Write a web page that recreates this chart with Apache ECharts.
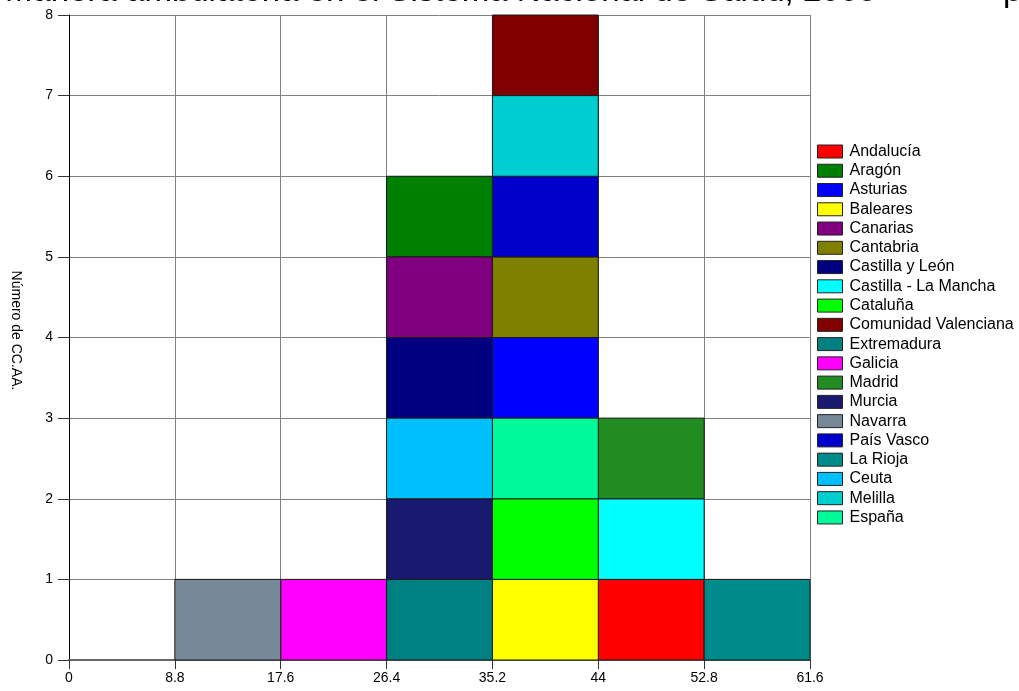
<!DOCTYPE html>
<html>
<head>
<meta charset="utf-8">
<script src="https://cdn.jsdelivr.net/npm/echarts@6/dist/echarts.min.js"></script>
<style>html,body{margin:0;padding:0;background:#fff}#c{width:1019px;height:691px}</style>
</head>
<body>
<div id="c"></div>
<script>
// Regions (legend order)
const regions = ["Andalucía","Aragón","Asturias","Baleares","Canarias","Cantabria","Castilla y León","Castilla - La Mancha","Cataluña","Comunidad Valenciana","Extremadura","Galicia","Madrid","Murcia","Navarra","País Vasco","La Rioja","Ceuta","Melilla","España"];
const colors = ["#ff0000","#008000","#0000ff","#ffff00","#800080","#808000","#000080","#00ffff","#00ff00","#800000","#008080","#ff00ff","#228b22","#191970","#778899","#0000cd","#008b8b","#00bfff","#00ced1","#00fa9a"];
// Lower bound of histogram bin each region falls into
const binStart = [44,26.4,35.2,35.2,26.4,35.2,26.4,44,35.2,35.2,26.4,17.6,44,26.4,8.8,35.2,52.8,26.4,35.2,35.2];
// Stacking order inside each bin (bottom to top)
const stackOrder = ["Navarra","Galicia","Extremadura","Murcia","Ceuta","Castilla y León","Canarias","Aragón","Baleares","Cataluña","España","Asturias","Cantabria","País Vasco","Melilla","Comunidad Valenciana","Andalucía","Castilla - La Mancha","Madrid","La Rioja"];
const binWidth = 8.8;
const xTicks = [0,8.8,17.6,26.4,35.2,44,52.8,61.6];
const yTicks = [0,1,2,3,4,5,6,7,8];

const level = {};
const counts = {};
stackOrder.forEach(function(n){
  const b = binStart[regions.indexOf(n)];
  counts[b] = counts[b] || 0;
  level[n] = counts[b];
  counts[b] += 1;
});

const chart = echarts.init(document.getElementById('c'), null, {renderer:'canvas'});
const FONT = 'Liberation Sans, Arial, sans-serif';
const series = regions.map(function(name,i){
  return {
    name: name,
    type: 'custom',
    itemStyle: {color: colors[i], borderColor:'#222', borderWidth:1},
    renderItem: function(params, api){
      const x0 = api.value(0), y0 = api.value(1);
      const p0 = api.coord([x0, y0]);
      const p1 = api.coord([x0 + binWidth, y0 + 1]);
      return {type:'rect', shape:{x:p0[0], y:p1[1], width:p1[0]-p0[0], height:p0[1]-p1[1]},
        style:{fill: colors[i], stroke:'#1a1a1a', lineWidth:1}};
    },
    data: [[binStart[i], level[name]]]
  };
});

chart.setOption({
  animation:false,
  backgroundColor:'#fff',
  graphic:[
    {type:'text', left:5, top:-24.5, style:{text:'Manera ambulatoria en el Sistema Nacional de Salud, 2005', font:'33px '+FONT, fill:'#000'}},
    {type:'text', left:1003, top:-24.5, style:{text:'p', font:'33px '+FONT, fill:'#000'}}
  ],
  legend:{
    orient:'vertical', left:817, top:143.5, itemWidth:25, itemHeight:13, itemGap:3.26,
    padding:0, data: regions, icon:'rect', selectedMode:false,
    itemStyle:{borderColor:'#222', borderWidth:1},
    textStyle:{fontFamily:FONT, fontSize:16, color:'#000', padding:[0,0,0,2]}
  },
  grid:{left:69, right:209, top:15, bottom:31, containLabel:false},
  xAxis:{
    type:'value', min:0, max:61.6, interval:8.8,
    axisLine:{show:true, onZero:false, lineStyle:{color:'#666', width:2}},
    axisTick:{show:true, length:9, lineStyle:{color:'#333'}},
    axisLabel:{fontFamily:FONT, fontSize:14, color:'#000', margin:11,
      formatter:function(v){ const t = xTicks.find(function(a){return Math.abs(a-v)<1e-6;}); return t===undefined?'':String(t);} },
    splitLine:{show:true, lineStyle:{color:'#808080', width:1}}
  },
  yAxis:{
    type:'value', min:0, max:8, interval:1,
    name:'Número de CC.AA.', nameLocation:'middle', nameGap:46, nameRotate:-90,
    nameTextStyle:{fontFamily:FONT, fontSize:14, color:'#000', padding:[0,14,14,0]},
    axisLine:{show:true, lineStyle:{color:'#000', width:1}},
    axisTick:{show:true, length:11, lineStyle:{color:'#333'}},
    axisLabel:{fontFamily:FONT, fontSize:14, color:'#000', margin:16,
      formatter:function(v){ return yTicks.indexOf(v)>=0 ? String(v) : ''; }},
    splitLine:{show:true, lineStyle:{color:'#808080', width:1}}
  },
  series: series
});
</script>
</body>
</html>
